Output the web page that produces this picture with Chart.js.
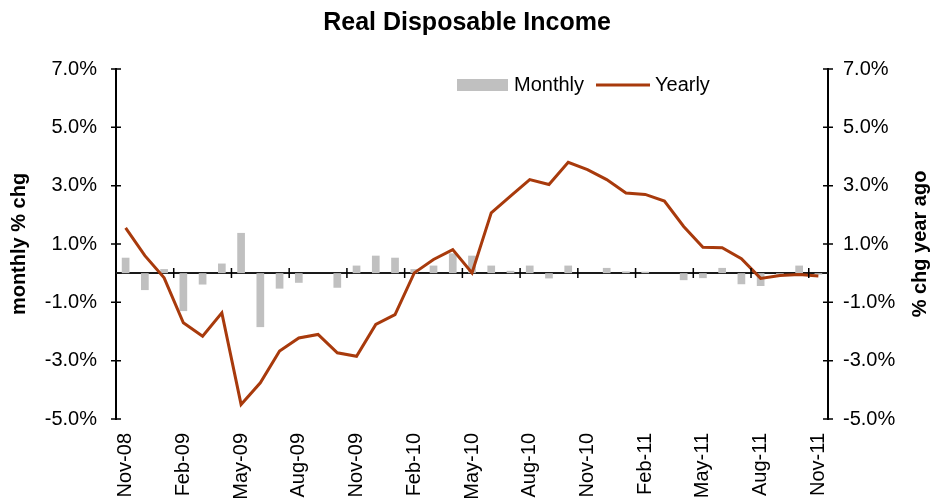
<!DOCTYPE html>
<html>
<head>
<meta charset="utf-8">
<title>Real Disposable Income</title>
<script src="https://cdn.jsdelivr.net/npm/chart.js@4.4.1/dist/chart.umd.min.js"></script>
<style>
  body { margin: 0; background: #fff; }
  canvas { display: block; }
</style>
</head>
<body>
<canvas id="chart" width="934" height="503"></canvas>
<script>
// Data
const months = [
  'Nov-08','Dec-08','Jan-09','Feb-09','Mar-09','Apr-09','May-09','Jun-09','Jul-09','Aug-09',
  'Sep-09','Oct-09','Nov-09','Dec-09','Jan-10','Feb-10','Mar-10','Apr-10','May-10','Jun-10',
  'Jul-10','Aug-10','Sep-10','Oct-10','Nov-10','Dec-10','Jan-11','Feb-11','Mar-11','Apr-11',
  'May-11','Jun-11','Jul-11','Aug-11','Sep-11','Oct-11','Nov-11'
];
const labelEvery = 3;

// monthly % chg (bars, left axis)
const monthly = [
  0.53, -0.58, 0.14, -1.30, -0.39, 0.33, 1.38, -1.85, -0.53, -0.33,
  0.00, -0.50, 0.26, 0.60, 0.53, 0.14, 0.26, 0.68, 0.60, 0.26,
  0.08, 0.26, -0.18, 0.26, 0.00, 0.18, 0.06, 0.05, 0.00, -0.24,
  -0.17, 0.18, -0.38, -0.44, -0.05, 0.26, -0.05
];

// % chg year ago (line, right axis)
const yearly = [
  1.55, 0.60, -0.16, -1.70, -2.16, -1.36, -4.50, -3.76, -2.67, -2.22,
  -2.10, -2.73, -2.85, -1.76, -1.42, 0.01, 0.47, 0.81, 0.01, 2.07,
  2.64, 3.21, 3.04, 3.80, 3.55, 3.21, 2.75, 2.70, 2.47, 1.60,
  0.89, 0.87, 0.50, -0.18, -0.08, -0.05, -0.10
];

const yTicks = [-5, -3, -1, 1, 3, 5, 7];

const FONT = "'Liberation Sans', Arial, sans-serif";
const INK = '#000';
const BAR_COLOR = '#c0c0c0';
const LINE_COLOR = '#a83a0c';

function pct(v) { return v.toFixed(1) + '%'; }

// zero line with its tick marks, y tick marks, legend and right title
const extras = {
  id: 'extras',
  beforeDatasetsDraw(chart) {
    const { ctx, chartArea: a, scales: { y } } = chart;
    const zero = Math.round(y.getPixelForValue(0));
    ctx.save();
    ctx.strokeStyle = '#1a1a1a';
    ctx.lineWidth = 2;
    ctx.beginPath();
    ctx.moveTo(a.left, zero);
    ctx.lineTo(a.right, zero);
    ctx.stroke();
    ctx.restore();
  },
  afterDraw(chart) {
    const { ctx, chartArea: a, scales: { x, y } } = chart;
    const zero = Math.round(y.getPixelForValue(0));
    ctx.save();
    ctx.strokeStyle = INK;
    ctx.lineWidth = 1.5;
    ctx.beginPath();
    // x ticks between categories on the zero line
    for (let i = labelEvery; i < months.length; i += labelEvery) {
      const px = (x.getPixelForValue(i - 1) + x.getPixelForValue(i)) / 2;
      ctx.moveTo(px, zero - 5);
      ctx.lineTo(px, zero + 5);
    }
    // y ticks crossing both axes
    yTicks.forEach(v => {
      const py = y.getPixelForValue(v);
      ctx.moveTo(a.left - 5, py); ctx.lineTo(a.left + 5, py);
      ctx.moveTo(a.right - 5, py); ctx.lineTo(a.right + 5, py);
    });
    ctx.stroke();

    // legend
    const ds = chart.data.datasets;
    const ly = 85;
    ctx.font = '20px ' + FONT;
    ctx.textBaseline = 'middle';
    ctx.textAlign = 'left';
    ctx.fillStyle = BAR_COLOR;
    ctx.fillRect(457, ly - 6, 51, 12);
    ctx.fillStyle = INK;
    ctx.fillText(ds[1].label, 514, ly);
    ctx.strokeStyle = LINE_COLOR;
    ctx.lineWidth = 3;
    ctx.beginPath();
    ctx.moveTo(596, ly); ctx.lineTo(650, ly);
    ctx.stroke();
    ctx.fillText(ds[0].label, 655, ly);

    // right axis title, reading bottom to top like the left one
    ctx.translate(920, (a.top + a.bottom) / 2);
    ctx.rotate(-Math.PI / 2);
    ctx.font = 'bold 20px ' + FONT;
    ctx.textAlign = 'center';
    ctx.fillText('% chg year ago', 0, 0);
    ctx.restore();
  }
};

const ctx = document.getElementById('chart');

new Chart(ctx, {
  type: 'bar',
  data: {
    labels: months,
    datasets: [{
      type: 'line',
      label: 'Yearly',
      data: yearly,
      yAxisID: 'y2',
      borderColor: LINE_COLOR,
      borderWidth: 3,
      pointRadius: 0,
      tension: 0,
      order: 0
    }, {
      label: 'Monthly',
      data: monthly,
      yAxisID: 'y',
      backgroundColor: BAR_COLOR,
      barPercentage: 0.4,
      categoryPercentage: 1,
      order: 1
    }]
  },
  options: {
    responsive: false,
    animation: false,
    devicePixelRatio: 1,
    layout: { padding: 0 },
    plugins: {
      legend: { display: false },
      tooltip: { enabled: false },
      title: {
        display: true,
        text: 'Real Disposable Income',
        color: INK,
        font: { family: FONT, size: 25, weight: 'bold' },
        padding: { top: 8, bottom: 31 }
      }
    },
    scales: {
      x: {
        grid: { display: false, drawTicks: false },
        border: { display: false },
        ticks: {
          autoSkip: false,
          minRotation: 90,
          maxRotation: 90,
          padding: 14,
          color: INK,
          font: { family: FONT, size: 20 },
          callback: (v, i) => i % labelEvery === 0 ? months[i] : ''
        },
        afterFit: s => { s.height = 84; }
      },
      y: {
        position: 'left',
        min: -5,
        max: 7,
        grid: { display: false, drawTicks: false },
        border: { color: INK, width: 2 },
        afterBuildTicks: s => { s.ticks = yTicks.map(v => ({ value: v })); },
        ticks: {
          padding: 19,
          color: INK,
          font: { family: FONT, size: 20 },
          callback: v => pct(v)
        },
        title: {
          display: true,
          text: 'monthly % chg',
          color: INK,
          font: { family: FONT, size: 20, weight: 'bold' },
          padding: { top: 7, bottom: 0 }
        },
        afterFit: s => { s.width = 116; }
      },
      y2: {
        position: 'right',
        min: -5,
        max: 7,
        grid: { display: false, drawTicks: false },
        border: { color: INK, width: 2 },
        afterBuildTicks: s => { s.ticks = yTicks.map(v => ({ value: v })); },
        ticks: {
          padding: 15,
          color: INK,
          font: { family: FONT, size: 20 },
          callback: v => pct(v)
        },
        afterFit: s => { s.width = 106; }
      }
    }
  },
  plugins: [extras]
});
</script>
</body>
</html>
